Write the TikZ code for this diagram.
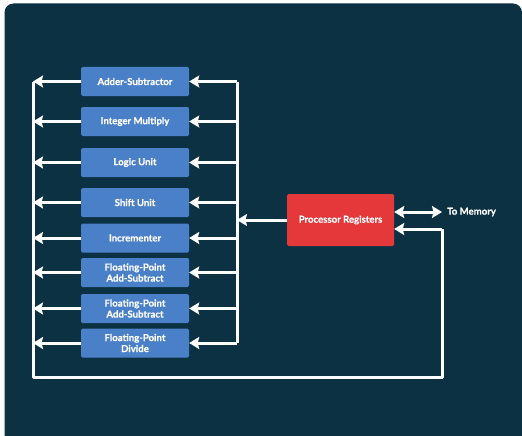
\documentclass[tikz,border=0pt]{standalone}
\usepackage{fontspec}
\setmainfont{Lato}[BoldFeatures={FakeBold=0.6}]
\usetikzlibrary{arrows.meta}
\definecolor{panel}{HTML}{0B3143}
\definecolor{unitblue}{HTML}{4A80C8}
\definecolor{regred}{HTML}{E5383B}
\tikzset{
  unit/.style={draw=none, fill=unitblue, rounded corners=1.5pt, minimum width=108pt,
    minimum height=29pt, inner sep=1pt, align=center, text=white,
    font=\bfseries\fontsize{9.6pt}{11pt}\selectfont},
  regbox/.style={unit, fill=regred, minimum width=107pt, minimum height=52pt},
  wire/.style={draw=white, line width=3pt},
  tip/.tip={Stealth[length=10pt,width=12pt,inset=1.5pt]},
  arr/.style={wire, -tip},
  darr/.style={wire, tip-tip},
  lbl/.style={text=white, font=\bfseries\fontsize{9.6pt}{11pt}\selectfont, inner sep=0pt}
}
\begin{document}
\begin{tikzpicture}[x=1pt,y=-1pt]
\useasboundingbox (0,0) rectangle (522,436);
\fill[white] (0,0) rectangle (522,436);
\fill[panel, rounded corners=9pt] (4.5,3.5) rectangle (522,445);

% functional units
\node[unit] (adder) at (135,81.5) {Adder-Subtractor};
\node[unit] (mult)  at (135,121.5) {Integer Multiply};
\node[unit] (logic) at (135,162.5) {Logic Unit};
\node[unit] (shift) at (135,202.5) {Shift Unit};
\node[unit] (incr)  at (135,238) {Incrementer};
\node[unit] (fpa)   at (135,272.5) {Floating-Point\\Add-Subtract};
\node[unit] (fpb)   at (135,308.5) {Floating-Point\\Add-Subtract};
\node[unit] (fpdiv) at (135,343) {Floating-Point\\Divide};

% register file
\node[regbox] (reg) at (340.5,220) {Processor Registers};
\node[lbl, anchor=west] (mem) at (447,212) {To Memory};

% bus coordinates
\coordinate (rtop) at (237,81.5);
\coordinate (rbot) at (237,343);
\coordinate (ltop) at (33,81.5);
\coordinate (lbot) at (33,377);
\coordinate (fbr)  at (442,377);
\coordinate (fbt)  at (442,229);
\coordinate (rin)  at (237,220);
\coordinate (memend) at (442,212);

% input bus (right) and result bus (left) with feedback loop
\draw[wire] (rtop) -- (rbot);
\draw[wire, line join=round] (ltop) -- (lbot) -- (fbr) -- (fbt);
\draw[arr] (fbt) -- (fbt -| reg.east);

% registers to input bus
\draw[arr] (reg.west |- rin) -- (rin);
% memory link
\draw[darr] (reg.east |- memend) -- (memend);

% unit inputs and outputs
\foreach \u in {adder,mult,logic,shift,incr,fpa,fpb,fpdiv}{
  \draw[arr] (\u.east -| rtop) -- (\u.east);
  \draw[arr] (\u.west) -- (\u.west -| ltop);
}
\end{tikzpicture}
\end{document}
